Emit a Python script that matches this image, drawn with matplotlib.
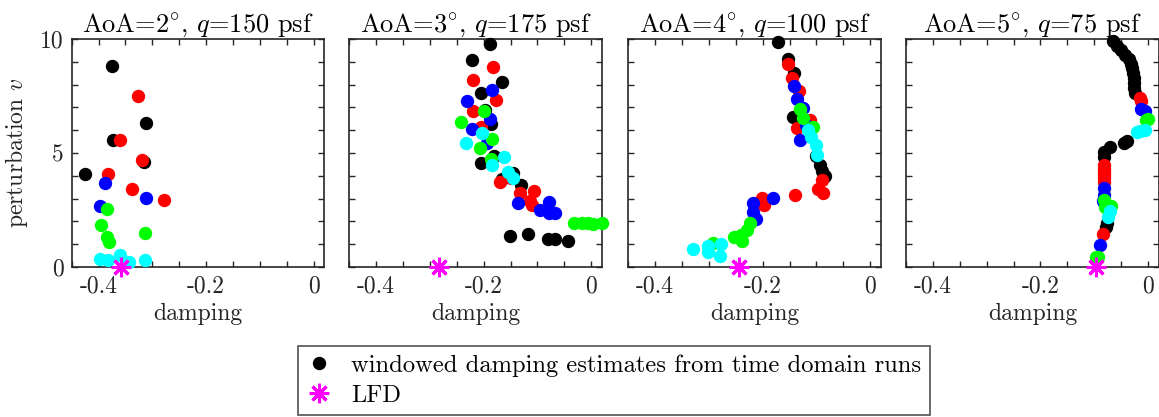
import matplotlib
matplotlib.use("Agg")
import matplotlib.pyplot as plt
from matplotlib.ticker import MultipleLocator, FixedLocator, FixedFormatter
from matplotlib.lines import Line2D

plt.rcParams['font.family'] = ['cmr10', 'DejaVu Serif']
plt.rcParams['mathtext.fontset'] = 'cm'
plt.rcParams['axes.unicode_minus'] = False
plt.rcParams['font.size'] = 17

# panel titles and LFD points
titles = [r'AoA=$2^{\circ}$, $q$=150 psf', r'AoA=$3^{\circ}$, $q$=175 psf',
          r'AoA=$4^{\circ}$, $q$=100 psf', r'AoA=$5^{\circ}$, $q$=75 psf']
lfd_x = [-0.358, -0.283, -0.244, -0.096]
lfd_y = [0, 0, 0, 0]

# AoA = 2 deg
aoa2_black = ([-0.375, -0.311, -0.373, -0.315, -0.426],
              [8.83, 6.30, 5.57, 4.62, 4.08])
aoa2_red = ([-0.327, -0.361, -0.319, -0.383, -0.338, -0.278],
            [7.51, 5.57, 4.69, 4.08, 3.42, 2.93])
aoa2_blue = ([-0.389, -0.312, -0.397], [3.67, 3.04, 2.68])
aoa2_green = ([-0.384, -0.396, -0.385, -0.380, -0.313],
              [2.54, 1.83, 1.32, 1.10, 1.51])
aoa2_cyan = ([-0.398, -0.383, -0.361, -0.343, -0.313],
             [0.37, 0.29, 0.51, 0.22, 0.32])

# AoA = 3 deg
aoa3_black = ([-0.188, -0.221, -0.166, -0.205, -0.197, -0.187, -0.181, -0.205,
               -0.145, -0.166, -0.131, -0.151, -0.117, -0.081, -0.067, -0.043],
              [9.79, 9.09, 8.11, 7.62, 6.89, 6.28, 4.88, 4.55,
               4.11, 3.84, 3.59, 1.36, 1.44, 1.22, 1.25, 1.16])
aoa3_red = ([-0.182, -0.220, -0.178, -0.220, -0.205, -0.150, -0.170, -0.132,
             -0.107, -0.113, -0.110],
            [8.77, 8.18, 7.33, 6.85, 6.16, 3.89, 3.71, 3.23,
             3.34, 2.90, 2.74])
aoa3_blue = ([-0.185, -0.231, -0.189, -0.222, -0.193, -0.136, -0.079, -0.096,
              -0.079, -0.068],
             [7.77, 7.30, 6.50, 6.04, 5.43, 2.82, 2.86, 2.49, 2.38, 2.39])
aoa3_green = ([-0.200, -0.242, -0.184, -0.207, -0.186, -0.032, -0.017, -0.006,
               0.003, 0.020],
              [6.85, 6.35, 5.62, 5.21, 4.74, 1.94, 1.91, 1.91, 1.88, 1.91])
aoa3_cyan = ([-0.203, -0.233, -0.162, -0.184, -0.155, -0.146],
             [5.89, 5.43, 4.81, 4.47, 4.18, 3.89])

# AoA = 4 deg
aoa4_black = ([-0.172, -0.153, -0.142, -0.143, -0.101, -0.094, -0.090, -0.085],
              [9.87, 9.13, 8.50, 6.57, 4.87, 4.47, 4.22, 4.00])
aoa4_red = ([-0.153, -0.145, -0.133, -0.112, -0.136, -0.090, -0.097, -0.088,
             -0.139, -0.201, -0.197],
            [8.91, 8.28, 7.73, 6.45, 6.09, 3.81, 3.40, 3.23, 3.15, 3.01, 2.71])
aoa4_blue = ([-0.142, -0.136, -0.125, -0.120, -0.130, -0.180, -0.218, -0.218,
              -0.213],
             [7.92, 7.38, 6.96, 6.23, 5.57, 3.04, 2.82, 2.42, 2.10])
aoa4_green = ([-0.130, -0.125, -0.106, -0.223, -0.229, -0.240, -0.253, -0.238,
               -0.292],
              [6.93, 6.52, 6.13, 1.95, 1.61, 1.42, 1.32, 1.14, 1.06])
aoa4_cyan = ([-0.116, -0.111, -0.101, -0.099, -0.278, -0.302, -0.302, -0.329,
              -0.279],
             [6.01, 5.72, 5.35, 4.91, 1.03, 0.91, 0.66, 0.78, 0.47])

# AoA = 5 deg
aoa5_black = ([-0.064, -0.057, -0.050, -0.042, -0.036, -0.032, -0.030, -0.027,
               -0.026, -0.025, -0.025, -0.024, -0.039, -0.045, -0.071, -0.081,
               -0.082, -0.076, -0.078],
              [9.90, 9.71, 9.50, 9.31, 9.12, 8.91, 8.71, 8.50,
               8.28, 8.06, 7.84, 7.65, 5.54, 5.43, 5.28, 5.06,
               4.84, 1.94, 1.76])
aoa5_red = ([-0.014, -0.012, -0.082, -0.082, -0.082, -0.082, -0.082, -0.082,
             -0.083],
            [7.40, 7.26, 4.47, 4.32, 4.18, 4.03, 3.89, 3.74, 1.44])
aoa5_blue = ([-0.012, -0.005, -0.082, -0.082, -0.084, -0.089],
             [6.94, 6.85, 3.45, 3.15, 2.90, 0.95])
aoa5_green = ([0.001, -0.003, -0.081, -0.079, -0.069, -0.097, -0.093],
              [6.48, 6.45, 2.93, 2.64, 2.67, 0.44, 0.45])
aoa5_cyan = ([-0.020, -0.006, -0.014, -0.071, -0.074],
             [5.94, 6.01, 5.97, 2.45, 2.20])

panels = [
    [aoa2_black, aoa2_red, aoa2_blue, aoa2_green, aoa2_cyan],
    [aoa3_black, aoa3_red, aoa3_blue, aoa3_green, aoa3_cyan],
    [aoa4_black, aoa4_red, aoa4_blue, aoa4_green, aoa4_cyan],
    [aoa5_black, aoa5_red, aoa5_blue, aoa5_green, aoa5_cyan],
]
colors = ['#000000', '#FF0000', '#0000FF', '#00FF00', '#00FFFF']
magenta = '#FF00FF'
asterisk = (8, 2, 0)
axcol = '#262626'

fig = plt.figure(figsize=(11.59, 4.17), dpi=100)
lefts = [0.0619, 0.3014, 0.5421, 0.7817]
for i in range(4):
    ax = fig.add_axes([lefts[i], 0.3597, 0.2180, 0.5468])
    for (xs, ys), c in zip(panels[i], colors):
        ax.plot(xs, ys, 'o', color=c, mec=c, markersize=8.6, clip_on=False, zorder=3)
    ax.plot(lfd_x[i], lfd_y[i], marker=asterisk, color=magenta, markersize=14,
            mew=2.2, linestyle='none', clip_on=False, zorder=4)
    ax.set_xlim(-0.45, 0.02)
    ax.set_ylim(0, 10)
    ax.xaxis.set_major_locator(FixedLocator([-0.4, -0.2, 0]))
    ax.xaxis.set_major_formatter(FixedFormatter(['-0.4', '-0.2', '0']))
    ax.xaxis.set_minor_locator(MultipleLocator(0.05))
    ax.yaxis.set_major_locator(FixedLocator([0, 5, 10]))
    ax.yaxis.set_minor_locator(MultipleLocator(1))
    ax.tick_params(which='both', direction='in', top=True, right=True,
                   length=4, width=1, color=axcol, labelcolor=axcol, pad=6)
    for s in ax.spines.values():
        s.set_color(axcol)
        s.set_linewidth(1.2)
    ax.set_xlabel('damping', color=axcol, labelpad=4)
    ax.set_title(titles[i], color='black', pad=4, fontsize=19)
    if i == 0:
        ax.yaxis.set_major_formatter(FixedFormatter(['0', '5', '10']))
        ax.set_ylabel(r'perturbation $v$', color=axcol, labelpad=7)
    else:
        ax.set_yticklabels([])

handles = [Line2D([], [], marker='o', color='black', linestyle='none', markersize=8.6),
           Line2D([], [], marker=asterisk, color=magenta, linestyle='none',
                  markersize=14, mew=2.2)]
leg = fig.legend(handles, ['windowed damping estimates from time domain runs', 'LFD'],
                 loc='upper left', bbox_to_anchor=(298 / 1159, 1 - 346 / 417),
                 borderaxespad=0, frameon=True, fancybox=False, fontsize=17.7,
                 handlelength=1.0, handletextpad=0.8, labelspacing=0.3,
                 borderpad=0.35)
leg.get_frame().set_edgecolor(axcol)
leg.get_frame().set_linewidth(1.2)

fig.savefig('out.png', dpi=100)
